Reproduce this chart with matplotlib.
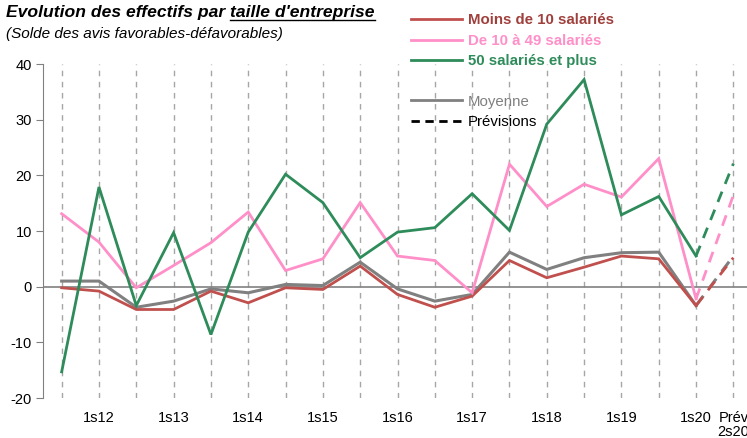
import numpy as np
import matplotlib
matplotlib.use('Agg')
import matplotlib.pyplot as plt
from matplotlib.lines import Line2D

plt.rcParams['font.family'] = ['Liberation Sans', 'DejaVu Sans']
plt.rcParams['axes.unicode_minus'] = False

# données (2s11 ... 1s20, puis prévision 2s20)
periodes = ['2s11', '1s12', '2s12', '1s13', '2s13', '1s14', '2s14', '1s15', '2s15',
            '1s16', '2s16', '1s17', '2s17', '1s18', '2s18', '1s19', '2s19', '1s20', 'Prév\n2s20']
etiquettes = ['', '1s12', '', '1s13', '', '1s14', '', '1s15', '',
              '1s16', '', '1s17', '', '1s18', '', '1s19', '', '1s20', 'Prév\n2s20']

moins10 = [-0.2, -0.8, -4.1, -4.1, -0.8, -2.9, -0.2, -0.5, 3.7,
           -1.4, -3.7, -1.7, 4.7, 1.6, 3.5, 5.5, 5.0, -3.4, 5.2]
de10a49 = [13.1, 8.0, -0.2, 3.8, 7.9, 13.4, 2.9, 5.0, 15.1,
           5.5, 4.7, -1.1, 22.0, 14.4, 18.4, 16.1, 23.0, -2.2, 16.4]
plus50 = [-15.3, 17.9, -3.4, 9.7, -8.6, 9.8, 20.2, 15.1, 5.2,
          9.8, 10.6, 16.7, 10.1, 29.2, 37.2, 12.9, 16.2, 5.5, 22.1]
moyenne = [1.0, 1.0, -3.7, -2.6, -0.4, -1.1, 0.4, 0.2, 4.4,
           -0.4, -2.6, -1.4, 6.2, 3.1, 5.2, 6.1, 6.2, -3.4, 5.5]

ROUGE = '#C0504D'
ROSE = '#FF8FC8'
VERT = '#2E8B5A'
GRIS = '#808080'

fig = plt.figure(figsize=(7.47, 4.38), dpi=100)
ax = fig.add_axes([43/747, 1-398/438, 709/747, 334/438])

x = np.arange(len(periodes))
n = len(periodes) - 1  # index de la prévision

# grille verticale pointillée
for xi in x:
    ax.axvline(xi, color='#A6A6A6', lw=1, dashes=(4, 4), zorder=0)
ax.axhline(0, color=GRIS, lw=1.2, zorder=1)

series = [(moyenne, GRIS, 2.2), (moins10, ROUGE, 2.0), (de10a49, ROSE, 2.0), (plus50, VERT, 2.0)]
for vals, c, lw in series:
    ax.plot(x[:n], vals[:n], color=c, lw=lw, solid_joinstyle='miter', zorder=3)
    ax.plot(x[n-1:], vals[n-1:], color=c, lw=lw, dashes=(4, 3), dash_capstyle='butt', zorder=3)

ax.set_xlim(-0.5, n + 0.5)
ax.set_ylim(-20, 40)
ax.set_yticks([-20, -10, 0, 10, 20, 30, 40])
ax.set_xticks(x)
ax.set_xticklabels(etiquettes, fontsize=10.5, linespacing=1.0)
ax.tick_params(axis='x', length=0, pad=9)
ax.tick_params(axis='y', direction='out', length=5, color=GRIS, labelsize=10.5, pad=3)
for s in ['top', 'right', 'bottom']:
    ax.spines[s].set_visible(False)
ax.spines['left'].set_color(GRIS)

# légende
handles = [Line2D([], [], color=ROUGE, lw=2),
           Line2D([], [], color=ROSE, lw=2),
           Line2D([], [], color=VERT, lw=2),
           Line2D([], [], color='none'),
           Line2D([], [], color=GRIS, lw=2),
           Line2D([], [], color='black', lw=2, dashes=(3, 2))]
labels = ['Moins de 10 salariés', 'De 10 à 49 salariés', '50 salariés et plus', '',
          'Moyenne', 'Prévisions']
leg = fig.legend(handles, labels, loc='upper left', bbox_to_anchor=(403/747, 1 - 6/438),
                 frameon=False, fontsize=10.8, handlelength=3.4, handletextpad=0.4,
                 labelspacing=0.42, borderpad=0)
couleurs = ['#A0403D', ROSE, VERT, 'black', GRIS, 'black']
for t, c, i in zip(leg.get_texts(), couleurs, range(6)):
    t.set_color(c)
    if i < 3:
        t.set_fontweight('bold')

# titre avec partie soulignée
t1 = fig.text(6/747, 1 - 17/438, "Evolution des effectifs par ", fontsize=12.6,
              fontweight='bold', fontstyle='italic', va='baseline')
fig.canvas.draw()
bb = t1.get_window_extent()
t2 = fig.text(bb.x1 / fig.bbox.width, 1 - 17/438, "taille d'entreprise", fontsize=12.6,
              fontweight='bold', fontstyle='italic', va='baseline')
fig.canvas.draw()
bb2 = t2.get_window_extent()
yl = 1 - 20/438
fig.add_artist(Line2D([bb2.x0 / fig.bbox.width, bb2.x1 / fig.bbox.width], [yl, yl],
                      color='black', lw=1, transform=fig.transFigure))
fig.text(6/747, 1 - 38/438, "(Solde des avis favorables-défavorables)", fontsize=11,
         fontstyle='italic', va='baseline')

fig.savefig('out.png', dpi=100)
